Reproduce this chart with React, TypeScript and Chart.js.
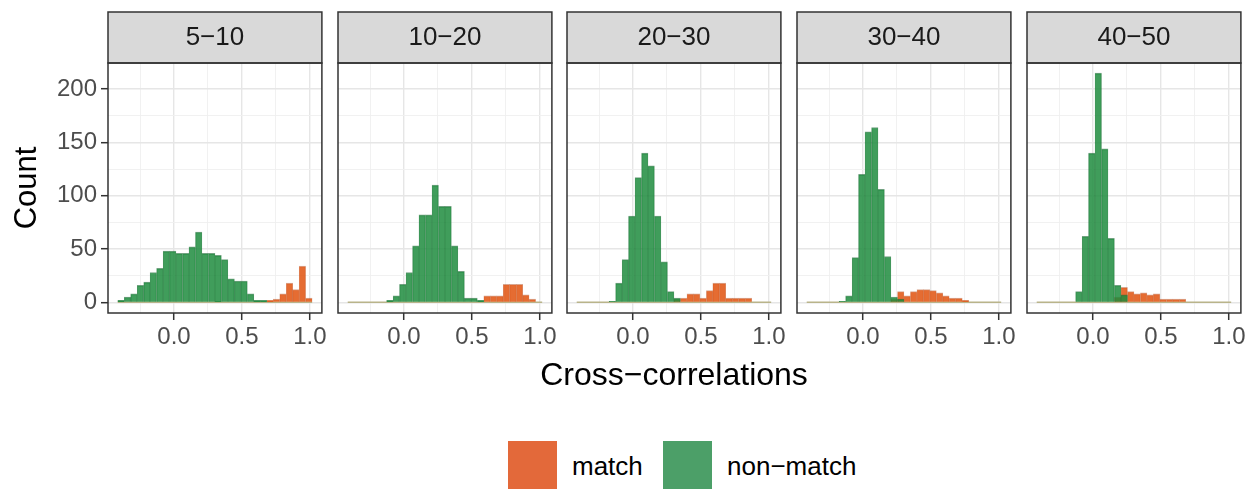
import React, { useEffect, useRef } from 'react';
import { Chart, registerables } from 'chart.js';

Chart.register(...registerables);

const FONT = "'Liberation Sans', Arial, Helvetica, sans-serif";

// ---------- data ----------
const panelLabels = ['5−10', '10−20', '20−30', '30−40', '40−50'];

// histogram bin centres (30 bins, shared by all panels)
const binCenters = [
  -0.390, -0.342, -0.295, -0.247, -0.199, -0.152, -0.104, -0.056, -0.009, 0.039,
  0.087, 0.134, 0.182, 0.230, 0.278, 0.325, 0.373, 0.421, 0.468, 0.516,
  0.564, 0.611, 0.659, 0.707, 0.754, 0.802, 0.850, 0.897, 0.945, 0.993,
];
// outer edges of the binned range (zero-count outline)
const binRange = [-0.414, 1.017];

const nonMatch5_10 = [2, 5, 8, 16, 19, 28, 32, 48, 48, 46, 46, 52, 66, 46, 46, 44, 40, 22, 20, 20, 8, 2, 2, 0, 0, 0, 0, 0, 0, 0];
const match5_10 = [0, 0, 0, 0, 0, 0, 0, 0, 0, 0, 0, 0, 0, 0, 0, 0, 0, 0, 0, 0, 0, 0, 0, 2, 3, 8, 18, 12, 34, 4];

const nonMatch10_20 = [0, 0, 0, 0, 0, 0, 2, 6, 17, 28, 53, 82, 82, 110, 90, 90, 53, 29, 4, 4, 2, 0, 0, 0, 0, 0, 0, 0, 0, 0];
const match10_20 = [0, 0, 0, 0, 0, 0, 0, 0, 0, 0, 0, 0, 0, 0, 0, 0, 0, 0, 0, 0, 0, 6, 6, 6, 17, 17, 17, 7, 3, 0];

const nonMatch20_30 = [0, 0, 0, 0, 0, 1, 18, 40, 81, 117, 140, 128, 81, 38, 10, 4, 0, 0, 0, 0, 0, 0, 0, 0, 0, 0, 0, 0, 0, 0];
const match20_30 = [0, 0, 0, 0, 0, 0, 0, 0, 0, 0, 0, 0, 0, 0, 0, 3, 4, 8, 8, 4, 11, 18, 18, 4, 4, 4, 4, 0, 0, 0];

const nonMatch30_40 = [0, 0, 0, 0, 0, 1, 6, 42, 120, 160, 164, 106, 43, 5, 3, 0, 0, 0, 0, 0, 0, 0, 0, 0, 0, 0, 0, 0, 0, 0];
const match30_40 = [0, 0, 0, 0, 0, 0, 0, 0, 0, 0, 0, 0, 0, 3, 10, 6, 10, 12, 12, 11, 9, 6, 4, 4, 2, 0, 0, 0, 0, 0];

const nonMatch40_50 = [0, 0, 0, 0, 0, 0, 10, 62, 140, 215, 144, 60, 16, 7, 0, 0, 0, 0, 0, 0, 0, 0, 0, 0, 0, 0, 0, 0, 0, 0];
const match40_50 = [0, 0, 0, 0, 0, 0, 0, 0, 0, 0, 0, 0, 5, 14, 10, 8, 9, 7, 8, 3, 3, 3, 3, 0, 0, 0, 0, 0, 0, 0];

const nonMatchCounts = [nonMatch5_10, nonMatch10_20, nonMatch20_30, nonMatch30_40, nonMatch40_50];
const matchCounts = [match5_10, match10_20, match20_30, match30_40, match40_50];

const xTicks = [-0.25, 0, 0.25, 0.5, 0.75, 1.0];
const xMajor = [0, 0.5, 1.0];
const yTicks = [0, 25, 50, 75, 100, 125, 150, 175, 200];
const yMajor = [0, 50, 100, 150, 200];

const legendLabels = ['match', 'non−match'];

// ---------- style / layout ----------
const X_MIN = -0.4855;
const X_MAX = 1.0885;
const Y_MIN = -10;
const Y_MAX = 224.5;

const GREEN = 'rgba(30,140,62,0.85)';
const GREEN_EDGE = 'rgba(20,100,45,0.6)';
const ORANGE = 'rgba(226,92,28,0.9)';
const ORANGE_EDGE = 'rgba(170,60,10,0.45)';
const ZERO_LINE = '#b9b48a';
const LEGEND_COLORS = ['#e3693a', '#4c9f68'];

const STRIP_TOP = 12;
const CANVAS_H = 360;
const PLOT_BOTTOM = 313;
const panelLefts = [108, 338, 567, 797, 1027];
const PANEL_W = 214;
const SIDE_PAD = 8;

const near = (v: number, arr: number[]) => arr.some((m) => Math.abs(m - v) < 1e-9);

const facetPlugin = {
  id: 'facetStrip',
  beforeDraw(chart: any) {
    const { ctx, chartArea: a } = chart;
    ctx.save();
    ctx.fillStyle = '#d9d9d9';
    ctx.fillRect(a.left, STRIP_TOP, a.right - a.left, a.top - STRIP_TOP);
    ctx.restore();
  },
  afterDraw(chart: any) {
    const { ctx, chartArea: a } = chart;
    ctx.save();
    ctx.strokeStyle = '#333333';
    ctx.lineWidth = 1.5;
    ctx.strokeRect(a.left, STRIP_TOP, a.right - a.left, a.top - STRIP_TOP);
    ctx.strokeRect(a.left, a.top, a.right - a.left, a.bottom - a.top);
    ctx.restore();
  },
};

function Panel({ idx }: { idx: number }) {
  const ref = useRef<HTMLCanvasElement>(null);
  const first = idx === 0;
  const left = first ? 0 : panelLefts[idx] - SIDE_PAD;
  const width = first ? panelLefts[0] + PANEL_W + SIDE_PAD : PANEL_W + 2 * SIDE_PAD;

  useEffect(() => {
    if (!ref.current) return;
    const barCommon = {
      grouped: false,
      barPercentage: 1,
      categoryPercentage: 1,
      borderSkipped: 'start',
    };
    const chart = new Chart(ref.current, {
      type: 'bar',
      data: {
        datasets: [
          {
            ...barCommon,
            label: 'non-match',
            data: binCenters.map((x, i) => ({ x, y: nonMatchCounts[idx][i] })),
            backgroundColor: GREEN,
            borderColor: GREEN_EDGE,
            borderWidth: { left: 0.5, right: 0.5, top: 1, bottom: 0 },
            order: 0,
          } as any,
          {
            ...barCommon,
            label: 'match',
            data: binCenters.map((x, i) => ({ x, y: matchCounts[idx][i] })),
            backgroundColor: ORANGE,
            borderColor: ORANGE_EDGE,
            borderWidth: { left: 0.5, right: 0.5, top: 1, bottom: 0 },
            order: 1,
          } as any,
          {
            type: 'line',
            label: 'zero',
            data: binRange.map((x) => ({ x, y: 0 })),
            borderColor: ZERO_LINE,
            borderWidth: 1.5,
            pointRadius: 0,
            order: 2,
          } as any,
        ],
      },
      options: {
        animation: false,
        responsive: false,
        events: [],
        layout: {
          padding: { top: STRIP_TOP, left: first ? 0 : SIDE_PAD, right: SIDE_PAD, bottom: 0 },
          autoPadding: false,
        } as any,
        plugins: {
          legend: { display: false },
          tooltip: { enabled: false },
          title: {
            display: true,
            text: panelLabels[idx],
            fullSize: false,
            color: '#1a1a1a',
            font: { family: FONT, size: 26, weight: 'normal', lineHeight: 1.2 },
            padding: { top: 9.9, bottom: 9.9 },
          } as any,
        },
        scales: {
          x: {
            type: 'linear',
            min: X_MIN,
            max: X_MAX,
            offset: false,
            afterBuildTicks: (s: any) => {
              s.ticks = xTicks.map((v) => ({ value: v }));
            },
            afterFit: (s: any) => {
              s.height = CANVAS_H - PLOT_BOTTOM;
            },
            grid: {
              offset: false,
              color: (c: any) => (c.tick && near(c.tick.value, xMajor) ? '#e6e6e6' : '#efefef'),
              lineWidth: (c: any) => (c.tick && near(c.tick.value, xMajor) ? 1.4 : 0.9),
              drawTicks: true,
              tickLength: 7,
              tickWidth: 1.5,
              tickColor: (c: any) => (c.tick && near(c.tick.value, xMajor) ? '#333333' : 'rgba(0,0,0,0)'),
            },
            border: { display: false },
            ticks: {
              padding: 3,
              color: '#4d4d4d',
              font: { family: FONT, size: 24 },
              maxRotation: 0,
              autoSkip: false,
              callback: (v: any) => (near(Number(v), xMajor) ? Number(v).toFixed(1) : ''),
            },
          },
          y: {
            type: 'linear',
            min: Y_MIN,
            max: Y_MAX,
            beginAtZero: false,
            afterBuildTicks: (s: any) => {
              s.ticks = yTicks.map((v) => ({ value: v }));
            },
            afterFit: (s: any) => {
              s.width = first ? panelLefts[0] : 0;
            },
            grid: {
              color: (c: any) => (c.tick && near(c.tick.value, yMajor) ? '#e6e6e6' : '#efefef'),
              lineWidth: (c: any) => (c.tick && near(c.tick.value, yMajor) ? 1.4 : 0.9),
              drawTicks: first,
              tickLength: 7,
              tickWidth: 1.5,
              tickColor: (c: any) => (c.tick && near(c.tick.value, yMajor) ? '#333333' : 'rgba(0,0,0,0)'),
            },
            border: { display: false },
            ticks: {
              display: first,
              padding: 4,
              color: '#4d4d4d',
              font: { family: FONT, size: 24 },
              autoSkip: false,
              callback: (v: any) => (near(Number(v), yMajor) ? String(v) : ''),
            },
            title: {
              display: first,
              text: 'Count',
              color: '#000000',
              font: { family: FONT, size: 31, lineHeight: 1.2 },
              padding: { top: 8.4, bottom: 0 },
            },
          },
        },
      } as any,
      plugins: [facetPlugin as any],
    });
    return () => chart.destroy();
  }, [idx, first]);

  return (
    <canvas
      ref={ref}
      width={width}
      height={CANVAS_H}
      style={{ position: 'absolute', left, top: 0, width, height: CANVAS_H }}
    />
  );
}

export default function App() {
  return (
    <div
      style={{
        position: 'absolute',
        left: 0,
        top: 0,
        width: 1257,
        height: 489,
        background: '#ffffff',
        overflow: 'hidden',
        fontFamily: FONT,
      }}
    >
      {panelLabels.map((_, i) => (
        <Panel key={i} idx={i} />
      ))}
      <div
        style={{
          position: 'absolute',
          left: 674,
          top: 358,
          transform: 'translateX(-50%)',
          fontSize: 32,
          lineHeight: '32px',
          color: '#000',
          whiteSpace: 'nowrap',
        }}
      >
        Cross−correlations
      </div>
      <div style={{ position: 'absolute', left: 508, top: 441, width: 49, height: 49, background: LEGEND_COLORS[0] }} />
      <div style={{ position: 'absolute', left: 572, top: 453, fontSize: 26, lineHeight: '26px', color: '#000', whiteSpace: 'nowrap' }}>
        {legendLabels[0]}
      </div>
      <div style={{ position: 'absolute', left: 663, top: 441, width: 49, height: 49, background: LEGEND_COLORS[1] }} />
      <div style={{ position: 'absolute', left: 727, top: 453, fontSize: 26, lineHeight: '26px', color: '#000', whiteSpace: 'nowrap' }}>
        {legendLabels[1]}
      </div>
    </div>
  );
}
